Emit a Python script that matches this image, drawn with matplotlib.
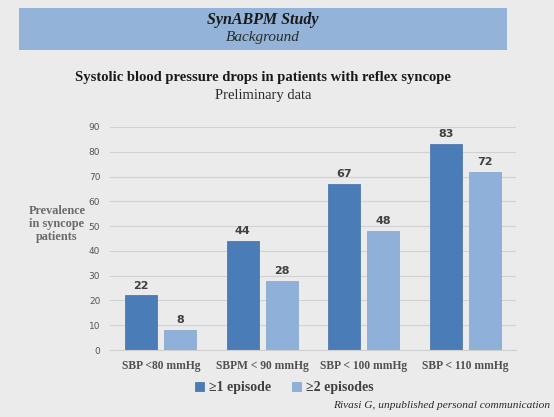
import matplotlib
matplotlib.use("Agg")
import matplotlib.pyplot as plt
import numpy as np
from matplotlib.patches import Rectangle

plt.rcParams['font.family'] = ['Liberation Serif', 'DejaVu Serif']

categories = ["SBP <80 mmHg", "SBPM < 90 mmHg", "SBP < 100 mmHg", "SBP < 110 mmHg"]
one_episode = [22, 44, 67, 83]
two_episodes = [8, 28, 48, 72]
series_names = ["\u22651 episode", "\u22652 episodes"]
yticks = [0, 10, 20, 30, 40, 50, 60, 70, 80, 90]

bg = "#ebebeb"
dark = "#4a7db7"
light = "#8fb0d8"

fig = plt.figure(figsize=(5.54, 4.17), dpi=100)
fig.patch.set_facecolor(bg)

# header band
fig.patches.append(Rectangle((19 / 554, 1 - 50 / 417), (507 - 19) / 554, 42 / 417,
                             transform=fig.transFigure, facecolor="#93b4d8",
                             edgecolor="none"))
fig.text(263 / 554, 1 - 20 / 417, "SynABPM Study", ha="center", va="center",
         fontsize=11.5, fontweight="bold", style="italic", color="#1a1a1a")
fig.text(263 / 554, 1 - 38 / 417, "Background", ha="center", va="center",
         fontsize=11, style="italic", color="#2a2a2a")

fig.text(263 / 554, 1 - 78 / 417, "Systolic blood pressure drops in patients with reflex syncope",
         ha="center", va="center", fontsize=10.5, fontweight="bold", color="#1a1a1a")
fig.text(263 / 554, 1 - 95 / 417, "Preliminary data", ha="center", va="center",
         fontsize=10.5, color="#2a2a2a")

ax = fig.add_axes([110 / 554, 1 - 350 / 417, 406 / 554, 223 / 417])
ax.set_facecolor(bg)

x = np.arange(len(categories))
w = 0.315
off = 0.192
b1 = ax.bar(x - off, one_episode, w, color=dark, edgecolor="#3f6fa5", linewidth=0.5,
            label=series_names[0])
b2 = ax.bar(x + off, two_episodes, w, color=light, edgecolor="#82a3cc", linewidth=0.5,
            label=series_names[1])

for bars, vals in ((b1, one_episode), (b2, two_episodes)):
    for r, v in zip(bars, vals):
        ax.text(r.get_x() + r.get_width() / 2, v + 2, str(v), ha="center", va="bottom",
                fontsize=8, fontweight="bold", color="#404040", family="DejaVu Sans")

ax.set_xlim(-0.5, 3.5)
ax.set_ylim(0, 90)
ax.set_yticks(yticks)
ax.set_yticklabels([str(t) for t in yticks], family="DejaVu Sans", fontsize=6.5,
                   color="#555555")
ax.set_xticks(x)
ax.set_xticklabels(categories, fontsize=8.3, fontweight="bold", color="#505050")
ax.tick_params(axis="both", length=0)
ax.tick_params(axis="y", pad=7)
ax.tick_params(axis="x", pad=7)
ax.grid(axis="y", color="#d2d2d2", linewidth=0.8)
ax.set_axisbelow(True)
for s in ["top", "right", "left"]:
    ax.spines[s].set_visible(False)
ax.spines["bottom"].set_color("#cfcfcf")

fig.text(57 / 554, 1 - 224 / 417, "Prevalence\nin syncope\npatients", ha="center",
         va="center", fontsize=8.8, fontweight="bold", color="#6a6a6a", linespacing=1.15)

leg = ax.legend(loc="upper center", bbox_to_anchor=(0.43, -0.085), ncol=2, frameon=False,
                prop={"size": 10, "weight": "bold"}, handlelength=0.6, handleheight=0.6,
                columnspacing=1.5, handletextpad=0.4)
for t in leg.get_texts():
    t.set_color("#404040")

fig.text(550 / 554, 1 - 405 / 417, "Rivasi G, unpublished personal communication",
         ha="right", va="center", fontsize=8.2, style="italic", color="#2a2a2a")

fig.savefig("out.png", dpi=100, facecolor=bg)
